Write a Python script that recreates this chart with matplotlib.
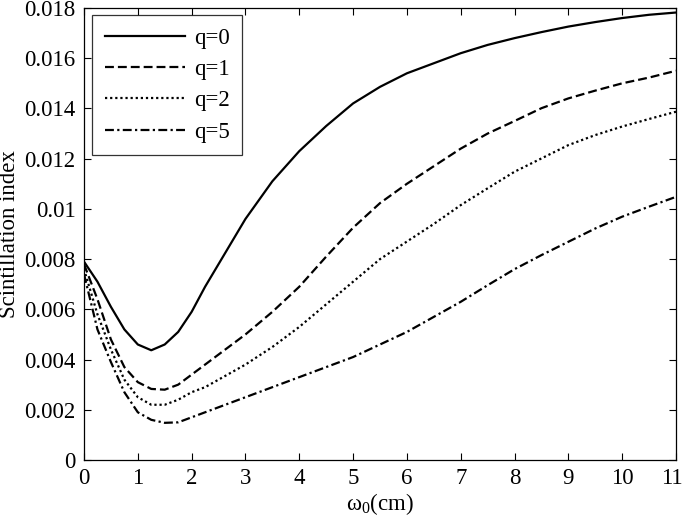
import matplotlib
matplotlib.use("Agg")
import matplotlib.pyplot as plt
import matplotlib.transforms as mtransforms

plt.rcParams['font.family'] = ['Liberation Serif', 'DejaVu Serif']
plt.rcParams['mathtext.fontset'] = 'custom'
plt.rcParams['mathtext.rm'] = 'Liberation Serif'
plt.rcParams['mathtext.it'] = 'Liberation Serif:italic'

w0 = [0, 0.25, 0.5, 0.75, 1.0, 1.25, 1.5, 1.75, 2.0, 2.25, 2.5, 2.75, 3.0, 3.5,
      4.0, 4.5, 5.0, 5.5, 6.0, 6.5, 7.0, 7.5, 8.0, 8.5, 9.0, 9.5, 10.0, 10.5, 11.0]

q0 = [0.0079, 0.0071, 0.0061, 0.0052, 0.0046, 0.00437, 0.0046, 0.0051, 0.0059,
      0.0069, 0.0078, 0.0087, 0.0096, 0.0111, 0.0123, 0.0133, 0.0142, 0.01486,
      0.0154, 0.0158, 0.0162, 0.01653, 0.0168, 0.01704, 0.01726, 0.01744, 0.0176,
      0.01773, 0.01782]
q1 = [0.0078, 0.0064, 0.0048, 0.0037, 0.0031, 0.00283, 0.0028, 0.0030, 0.0034,
      0.0038, 0.0042, 0.0046, 0.0050, 0.0059, 0.0069, 0.0081, 0.00925, 0.01023,
      0.0110, 0.0117, 0.0124, 0.0130, 0.0135, 0.01401, 0.0144, 0.01471, 0.0150,
      0.01523, 0.0155]
q2 = [0.0076, 0.0058, 0.0044, 0.0032, 0.0025, 0.0022, 0.0022, 0.0024, 0.0027,
      0.0029, 0.0032, 0.0035, 0.0038, 0.0045, 0.0053, 0.0062, 0.0071, 0.0080,
      0.0087, 0.0094, 0.01015, 0.01082, 0.01148, 0.01201, 0.01254, 0.01294,
      0.01328, 0.01358, 0.01387]
q5 = [0.0074, 0.0052, 0.0039, 0.0027, 0.0019, 0.0016, 0.00148, 0.0015, 0.0017,
      0.0019, 0.0021, 0.0023, 0.0025, 0.0029, 0.0033, 0.0037, 0.0041, 0.0046,
      0.0051, 0.0057, 0.0063, 0.00696, 0.0076, 0.00816, 0.00869, 0.00922,
      0.00969, 0.01009, 0.01048]

series_labels = ['q=0', 'q=1', 'q=2', 'q=5']
xticks = list(range(0, 12))
yticks = [0, 0.002, 0.004, 0.006, 0.008, 0.01, 0.012, 0.014, 0.016, 0.018]
ytick_labels = ['0', '0.002', '0.004', '0.006', '0.008', '0.01', '0.012',
                '0.014', '0.016', '0.018']

fig = plt.figure(figsize=(6.85, 5.22), dpi=100)
ax = fig.add_axes([84/685, 62/522, 592/685, 452/522])

styles = ['-', (0, (4, 1.8)), (0, (1, 1.3)), (0, (4, 1.5, 1, 1.5))]
for ys, ls, lab in zip([q0, q1, q2, q5], styles, series_labels):
    ax.plot(w0, ys, color='black', linestyle=ls, linewidth=1.6, label=lab)

ax.set_xlim(0, 11)
ax.set_ylim(0, 0.018)
ax.set_xticks(xticks)
ax.set_xticklabels([str(t) for t in xticks])
ax.set_yticks(yticks)
ax.set_yticklabels(ytick_labels)
ax.tick_params(direction='in', top=True, right=True, length=5, width=0.8,
               labelsize=16.5, pad=6)
for s in ax.spines.values():
    s.set_linewidth(0.9)

# keep the last x tick label inside the figure
last = ax.get_xticklabels()[-1]
last.set_transform(last.get_transform() +
                   mtransforms.ScaledTranslation(-4/100, 0, fig.dpi_scale_trans))

ax.set_xlabel(r'$\mathrm{ω}_0$(cm)', fontsize=16.5, labelpad=1)
ax.set_ylabel('Scintillation index', fontsize=16.5, labelpad=3)

leg = ax.legend(loc='upper left', bbox_to_anchor=(0.0135, 0.9845), fontsize=16.5,
                frameon=True, fancybox=False, edgecolor='black',
                handlelength=3.5, handletextpad=0.4, labelspacing=0.45,
                borderpad=0.55, borderaxespad=0)
leg.get_frame().set_linewidth(0.9)

fig.savefig('out.png', dpi=100)
